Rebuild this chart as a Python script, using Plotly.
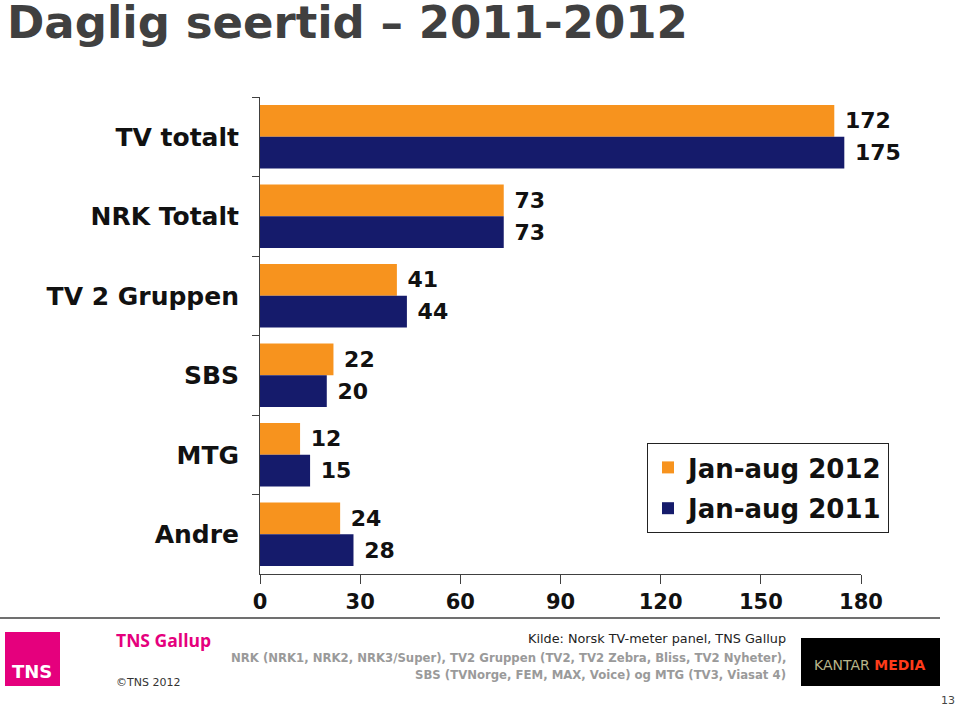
import plotly.graph_objects as go

categories = ["TV totalt", "NRK Totalt", "TV 2 Gruppen", "SBS", "MTG", "Andre"]
values_2012 = [172, 73, 41, 22, 12, 24]
values_2011 = [175, 73, 44, 20, 15, 28]
series_names = ["Jan-aug 2012", "Jan-aug 2011"]
x_ticks = [0, 30, 60, 90, 120, 150, 180]

ORANGE = "#F7931E"
NAVY = "#151B6B"
FONT = "DejaVu Sans"

# plot area in pixels
L, R, T, B = 260, 861, 97, 574
W, H = 959, 706


def px(x):
    return (x - L) / (R - L)


def py(y):
    return (B - y) / (B - T)


fig = go.Figure()
for i, (name, vals, col) in enumerate([(series_names[0], values_2012, ORANGE),
                                       (series_names[1], values_2011, NAVY)]):
    fig.add_trace(go.Bar(
        y=categories, x=vals, name=name, orientation="h", legendgroup=f"g{i}",
        marker=dict(color=col, line=dict(width=0)),
        text=["\u00a0" + str(v) for v in vals], textposition="outside",
        textfont=dict(family=FONT, size=22, color="#111111", weight="bold"),
        cliponaxis=False,
    ))

shapes = [
    dict(type="line", xref="paper", yref="paper", x0=px(0), x1=px(940), y0=py(618), y1=py(618),
         line=dict(color="#404040", width=1.5)),
    dict(type="rect", xref="paper", yref="paper", x0=px(5), x1=px(60), y0=py(686), y1=py(632),
         fillcolor="#E5007D", line=dict(width=0)),
    dict(type="rect", xref="paper", yref="paper", x0=px(801), x1=px(940), y0=py(686), y1=py(638),
         fillcolor="#000000", line=dict(width=0)),
]

annotations = [
    dict(text="TNS", x=px(32), y=py(671), xref="paper", yref="paper", showarrow=False,
         xanchor="center", yanchor="middle",
         font=dict(family=FONT, size=18, color="white", weight="bold")),
    dict(text="TNS Gallup", x=px(114), y=py(640), xref="paper", yref="paper", showarrow=False,
         xanchor="left", yanchor="middle",
         font=dict(family="Open Sans", size=17.5, color="#E5007D", weight="bold")),
    dict(text="©TNS 2012", x=px(114), y=py(682), xref="paper", yref="paper", showarrow=False,
         xanchor="left", yanchor="middle", font=dict(family=FONT, size=11, color="#333333")),
    dict(text="Kilde: Norsk TV-meter panel, TNS Gallup", x=px(788), y=py(638), xref="paper", yref="paper",
         showarrow=False, xanchor="right", yanchor="middle",
         font=dict(family=FONT, size=12.8, color="#222222")),
    dict(text="NRK (NRK1, NRK2, NRK3/Super), TV2 Gruppen (TV2, TV2 Zebra, Bliss, TV2 Nyheter),",
         x=px(788), y=py(658), xref="paper", yref="paper", showarrow=False,
         xanchor="right", yanchor="middle",
         font=dict(family=FONT, size=11.7, color="#9a9a9a", weight="bold")),
    dict(text="SBS (TVNorge, FEM, MAX, Voice) og MTG (TV3, Viasat 4)",
         x=px(788), y=py(675), xref="paper", yref="paper", showarrow=False,
         xanchor="right", yanchor="middle",
         font=dict(family=FONT, size=11.7, color="#9a9a9a", weight="bold")),
    dict(text="<span style='color:#B8B48A'>KANTAR </span><span style='color:#FF3B1A'><b>MEDIA</b></span>",
         x=px(870), y=py(665), xref="paper", yref="paper", showarrow=False,
         xanchor="center", yanchor="middle",
         font=dict(family=FONT, size=14)),
    dict(text="13", x=px(957), y=py(700), xref="paper", yref="paper", showarrow=False,
         xanchor="right", yanchor="middle", font=dict(family=FONT, size=11, color="#444444")),
]

fig.update_layout(
    width=W, height=H,
    margin=dict(l=L, r=W - R, t=T, b=H - B, pad=0),
    paper_bgcolor="white", plot_bgcolor="white",
    barmode="group", bargap=0.2, bargroupgap=0,
    title=dict(text="Daglig seertid – 2011-2012", x=7 / W, xanchor="left", xref="container",
               y=1 - 22 / H, yanchor="middle", yref="container",
               font=dict(family=FONT, size=45, color="#404040", weight="bold")),
    xaxis=dict(range=[0, 180], tickvals=x_ticks, ticktext=[str(t) for t in x_ticks],
               showgrid=False, zeroline=False, showline=True, linecolor="#404040", linewidth=1,
               ticks="outside", ticklen=9, tickcolor="#404040",
               tickfont=dict(family=FONT, size=21, color="#111111", weight="bold")),
    yaxis=dict(categoryorder="array", categoryarray=categories, autorange="reversed",
               showgrid=False, zeroline=False, showline=True, linecolor="#404040", linewidth=1,
               ticks="outside", ticklen=7, tickcolor="#404040", tickson="boundaries",
               ticklabelstandoff=15,
               tickfont=dict(family=FONT, size=25, color="#111111", weight="bold")),
    legend=dict(x=px(647), y=py(443), xanchor="left", yanchor="top", xref="paper", yref="paper",
                bordercolor="#222222", borderwidth=1, bgcolor="white",
                font=dict(family=FONT, size=26, color="#111111", weight="bold"),
                traceorder="grouped", itemwidth=30, tracegroupgap=4),
    shapes=shapes, annotations=annotations,
    showlegend=True,
)

fig.write_html("out.html", config={"displayModeBar": False},
               post_script="document.body.style.margin='0px';")
